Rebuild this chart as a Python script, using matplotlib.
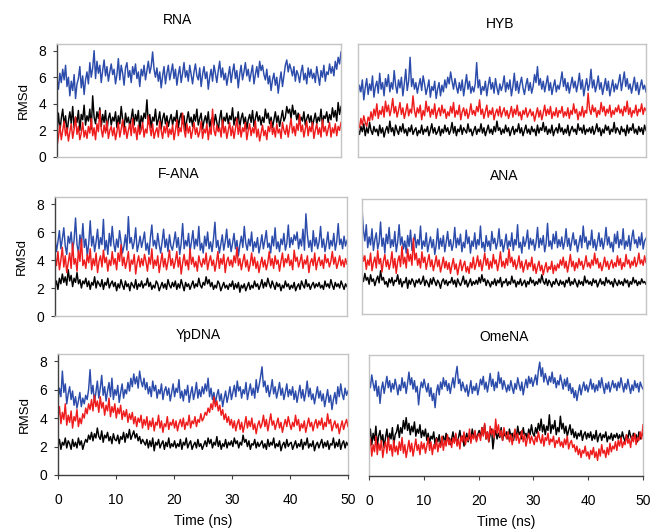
import numpy as np
import matplotlib
matplotlib.use("Agg")
import matplotlib.pyplot as plt

plt.rcParams['font.family'] = ['Liberation Sans', 'DejaVu Sans']

# RMSd traces (Angstrom) over the 50 ns runs, one list per duplex and strand type
rna_blue = [5.9, 5.1, 6.3, 5.6, 6.6, 5.8, 6.9, 5.3, 6.0, 4.6, 5.7, 5.0, 6.2, 4.4, 5.5, 5.9, 6.8, 5.2, 6.1, 4.7,
            5.8, 6.4, 5.5, 7.1, 6.0, 6.7, 8.0, 5.9, 7.2, 6.3, 6.9, 5.6, 6.5, 7.3, 6.1, 6.8, 5.7, 6.4, 7.0, 6.2,
            6.6, 5.5, 6.2, 7.4, 5.8, 6.9, 6.3, 5.4, 6.7, 7.1, 6.0, 6.5, 5.6, 6.8, 6.2, 7.0, 5.9, 6.4, 5.3, 6.6,
            6.1, 6.9, 5.8, 6.5, 7.2, 6.3, 6.8, 7.9, 6.6, 6.0, 6.7, 5.7, 6.4, 5.2, 6.1, 6.8, 5.5, 6.3, 6.9, 5.8,
            6.4, 7.0, 5.9, 6.6, 5.4, 6.2, 6.8, 5.6, 6.3, 7.1, 6.0, 6.5, 5.7, 6.9, 6.2, 5.5, 6.4, 7.0, 6.1, 5.8,
            6.7, 5.3, 6.2, 6.8, 5.9, 6.4, 5.1, 6.0, 6.6, 5.7, 6.9, 6.3, 5.6, 6.5, 7.2, 6.0, 6.7, 5.8, 6.3, 5.4,
            6.1, 6.8, 5.6, 6.4, 7.0, 5.9, 6.5, 5.2, 6.2, 6.9, 5.8, 6.4, 7.1, 6.1, 6.6, 5.7, 6.3, 6.9, 5.5, 6.2,
            6.8, 6.0, 7.2, 6.5, 6.9, 6.2, 5.8, 6.6, 5.5, 6.1, 5.0, 5.8, 6.3, 5.4, 6.0, 4.8, 5.7, 6.4, 5.3, 6.1,
            6.9, 7.3, 6.4, 7.0, 6.6, 6.1, 6.8, 5.7, 6.5, 6.2, 5.6, 6.4, 6.9, 5.8, 6.3, 5.5, 6.7, 6.0, 6.6, 5.9,
            6.3, 5.6, 6.8, 6.1, 5.4, 6.5, 6.0, 6.9, 5.7, 6.4, 6.2, 7.0, 6.3, 6.8, 6.1, 7.2, 6.6, 7.5, 7.0, 7.9]
rna_black = [2.2, 3.3, 1.9, 2.9, 3.6, 2.4, 3.1, 1.8, 2.7, 3.4, 2.5, 3.8, 2.2, 3.0, 2.6, 3.5, 2.0, 3.2, 2.8, 3.9,
             2.4, 3.1, 2.7, 3.6, 2.1, 4.6, 3.0, 2.5, 3.4, 2.9, 3.7, 2.3, 3.2, 2.6, 3.5, 2.0, 2.9, 3.3, 2.4, 3.0,
             2.7, 3.4, 2.2, 3.1, 2.5, 3.8, 2.8, 2.1, 3.3, 2.6, 3.0, 2.3, 2.9, 3.6, 2.4, 3.2, 2.7, 3.5, 2.0, 3.1,
             2.6, 3.3, 2.9, 4.3, 2.5, 3.2, 2.2, 3.0, 2.7, 3.6, 2.4, 2.8, 3.4, 2.1, 2.9, 3.3, 2.5, 3.1, 2.3, 2.8,
             3.2, 2.4, 3.0, 2.7, 3.5, 2.2, 2.9, 3.3, 2.5, 3.1, 2.0, 2.8, 3.4, 2.6, 3.0, 2.3, 3.2, 2.7, 3.6, 2.4,
             2.9, 3.3, 2.1, 2.7, 3.1, 2.5, 3.4, 2.2, 2.8, 3.0, 2.4, 3.2, 2.6, 2.0, 2.9, 3.5, 2.3, 3.0, 2.7, 3.3,
             2.5, 3.1, 2.8, 3.7, 2.4, 3.0, 2.6, 3.4, 2.2, 2.9, 3.3, 2.5, 3.0, 2.1, 2.8, 3.2, 2.6, 3.5, 2.3, 2.9,
             3.4, 2.7, 3.1, 2.4, 3.0, 2.6, 3.6, 2.9, 3.3, 2.5, 3.0, 2.2, 2.8, 3.4, 2.6, 3.1, 2.3, 2.9, 3.5, 2.7,
             3.0, 3.8, 3.3, 3.6, 2.9, 3.9, 3.2, 3.5, 2.8, 3.3, 2.5, 3.0, 2.7, 3.4, 2.4, 2.9, 3.2, 2.6, 3.1, 2.3,
             2.8, 3.3, 2.5, 3.0, 2.7, 3.6, 2.4, 3.1, 2.9, 3.4, 2.6, 3.2, 2.8, 3.7, 3.0, 3.5, 2.7, 4.1, 3.2, 3.8]
rna_red = [0.8, 1.5, 2.4, 1.3, 2.0, 2.7, 1.6, 2.2, 1.2, 1.9, 2.5, 1.4, 2.1, 3.0, 1.7, 2.3, 1.3, 1.8, 2.6, 1.5,
           2.0, 1.4, 2.3, 1.8, 2.9, 1.6, 2.2, 1.3, 2.5, 1.9, 3.5, 2.1, 1.5, 2.4, 1.8, 2.7, 1.4, 2.0, 2.3, 1.6,
           2.2, 1.3, 1.9, 2.6, 1.5, 2.1, 2.8, 1.7, 2.3, 1.4, 2.0, 2.5, 1.6, 2.9, 1.8, 2.2, 1.3, 2.4, 1.7, 2.0,
           2.6, 1.5, 2.1, 1.8, 3.1, 2.3, 1.6, 2.5, 1.4, 1.9, 2.2, 1.5, 2.7, 2.0, 1.4, 2.3, 1.8, 2.6, 1.5, 2.1,
           1.7, 2.4, 1.3, 2.0, 2.8, 1.6, 2.2, 1.9, 3.3, 2.1, 1.5, 2.5, 1.8, 2.3, 1.4, 2.0, 2.6, 1.7, 2.2, 1.5,
           1.9, 2.7, 1.4, 2.1, 1.8, 2.5, 1.3, 2.2, 1.7, 3.6, 2.0, 1.6, 2.4, 1.9, 2.2, 1.5, 2.8, 1.8, 2.3, 1.4,
           2.0, 2.6, 1.6, 2.3, 1.4, 2.1, 2.9, 1.7, 2.4, 1.5, 2.2, 1.9, 2.6, 1.3, 2.0, 2.5, 1.6, 2.2, 1.8, 2.7,
           1.5, 2.1, 1.2, 1.8, 2.4, 1.6, 2.0, 1.3, 2.3, 1.9, 2.7, 1.7, 2.2, 1.5, 2.5, 1.8, 2.1, 1.4, 2.6, 2.0,
           1.7, 2.4, 1.5, 2.2, 2.9, 1.8, 2.3, 1.6, 2.5, 2.0, 3.2, 1.9, 2.4, 1.5, 2.1, 2.7, 1.6, 2.3, 1.9, 2.6,
           1.4, 2.0, 2.5, 1.7, 2.2, 1.5, 2.8, 1.9, 2.3, 1.6, 2.1, 2.6, 1.5, 2.2, 1.8, 2.5, 1.6, 2.3, 2.0, 2.6]

hyb_blue = [4.6, 5.4, 4.9, 5.8, 4.3, 5.2, 5.9, 4.7, 5.5, 5.0, 6.1, 4.5, 5.3, 5.7, 4.8, 6.3, 5.1, 5.6, 4.6, 5.9,
            5.3, 6.2, 4.9, 5.6, 5.1, 6.5, 5.4, 4.8, 5.8, 5.2, 6.0, 4.6, 5.5, 6.6, 5.0, 5.7, 7.5, 5.3, 5.9, 5.1,
            5.6, 4.8, 5.4, 5.9, 5.0, 6.1, 5.5, 4.7, 5.2, 5.8, 4.5, 5.3, 5.0, 5.7, 4.4, 5.1, 5.6, 4.6, 5.4, 4.9,
            5.8, 5.2, 6.0, 5.5, 6.4, 5.7, 5.1, 5.9, 5.3, 4.8, 5.6, 5.0, 5.8, 4.6, 5.4, 6.2, 5.1, 5.7, 4.8, 5.3,
            4.9, 5.5, 7.1, 5.2, 5.8, 4.7, 5.3, 5.0, 5.7, 4.6, 5.4, 6.0, 5.1, 5.6, 4.8, 5.9, 5.2, 4.7, 5.5, 5.0,
            5.4, 6.1, 4.9, 5.6, 5.1, 5.8, 4.6, 5.3, 6.3, 5.0, 5.7, 4.8, 5.5, 6.0, 5.2, 4.7, 5.4, 5.9, 5.0, 5.6,
            4.8, 5.3, 6.2, 5.6, 6.8, 5.4, 5.9, 5.1, 5.7, 4.9, 5.5, 6.1, 5.0, 5.6, 4.7, 5.3, 5.8, 4.9, 5.4, 5.1,
            5.7, 6.4, 5.3, 5.9, 5.0, 5.6, 4.8, 5.4, 6.0, 5.2, 5.7, 4.9, 5.5, 6.3, 5.1, 5.8, 4.6, 5.3, 5.9, 5.0,
            5.5, 6.6, 5.2, 5.8, 4.9, 5.4, 6.1, 5.1, 5.6, 4.7, 5.3, 5.9, 5.0, 5.7, 4.6, 5.2, 5.8, 4.9, 5.5, 5.1,
            5.6, 6.2, 5.0, 5.7, 6.4, 5.3, 5.9, 5.1, 5.5, 4.8, 5.4, 6.0, 5.0, 5.6, 4.7, 5.3, 5.8, 5.1, 5.4, 4.9]
hyb_black = [2.1, 1.7, 2.3, 1.9, 2.5, 1.6, 2.2, 1.8, 2.6, 2.0, 1.7, 2.3, 1.9, 2.1, 1.6, 2.4, 1.8, 2.2, 1.5, 2.0,
             2.3, 1.8, 2.7, 1.9, 2.2, 1.6, 2.4, 2.0, 1.7, 2.3, 1.9, 2.5, 1.8, 2.1, 1.6, 2.2, 1.9, 2.4, 1.7, 2.0,
             2.2, 1.6, 2.0, 1.8, 2.4, 1.7, 2.1, 1.9, 2.3, 1.6, 2.0, 2.5, 1.8, 2.2, 1.7, 1.9, 2.3, 1.6, 2.1, 1.8,
             2.4, 1.9, 2.2, 1.7, 2.0, 2.6, 1.8, 2.3, 1.6, 2.1, 1.9, 2.4, 1.7, 2.2, 2.0, 1.8, 2.5, 1.9, 2.1, 1.6,
             2.0, 2.3, 1.7, 2.1, 1.9, 2.5, 1.8, 2.2, 1.6, 2.0, 2.4, 1.8, 2.1, 1.7, 2.3, 1.9, 2.7, 2.0, 2.2, 1.7,
             2.1, 1.8, 2.4, 1.9, 2.2, 1.6, 2.0, 2.3, 1.7, 2.1, 1.9, 2.5, 1.8, 2.2, 1.6, 2.0, 2.4, 1.8, 2.1, 1.7,
             2.3, 1.9, 2.1, 1.6, 2.4, 1.8, 2.2, 2.0, 2.6, 1.9, 2.3, 1.7, 2.1, 1.8, 2.4, 1.6, 2.0, 2.2, 1.8, 2.5,
             1.9, 2.2, 1.7, 2.1, 1.8, 2.4, 1.6, 2.0, 2.3, 1.9, 2.1, 1.7, 2.5, 2.0, 2.2, 1.8, 2.4, 1.7, 2.1, 1.9,
             2.2, 1.8, 2.3, 1.7, 2.0, 2.5, 1.9, 2.2, 1.6, 2.1, 1.8, 2.4, 2.0, 2.3, 1.7, 2.1, 1.9, 2.6, 1.8, 2.2,
             2.0, 1.7, 2.3, 1.9, 2.1, 1.6, 2.4, 1.8, 2.2, 2.0, 2.5, 1.8, 2.1, 1.7, 2.3, 1.9, 2.2, 1.7, 2.4, 2.0]
hyb_red = [2.5, 2.2, 2.9, 2.4, 3.1, 2.6, 2.3, 3.0, 2.7, 3.4, 2.8, 3.6, 3.1, 4.0, 2.9, 3.5, 3.2, 3.8, 3.0, 4.2,
           3.4, 3.9, 3.1, 3.6, 4.4, 3.3, 3.8, 3.0, 3.5, 4.1, 3.2, 3.7, 2.9, 3.4, 4.0, 3.1, 3.6, 3.3, 4.6, 3.5,
           3.0, 3.7, 3.3, 3.9, 2.8, 3.5, 3.1, 4.2, 3.4, 3.8, 3.0, 3.6, 3.2, 4.0, 2.9, 3.4, 3.7, 3.1, 3.9, 3.3,
           3.6, 2.9, 3.4, 3.1, 3.8, 3.3, 4.1, 3.0, 3.5, 3.2, 3.9, 2.8, 3.4, 3.7, 3.1, 3.6, 2.9, 3.3, 4.0, 3.2,
           3.5, 3.1, 3.8, 3.4, 4.3, 3.2, 3.6, 2.9, 3.4, 3.9, 3.0, 3.5, 3.2, 3.7, 2.8, 3.3, 3.6, 3.1, 3.8, 3.0,
           3.4, 3.7, 3.1, 3.5, 2.9, 3.3, 3.8, 3.0, 3.6, 3.2, 3.9, 3.1, 3.4, 2.8, 3.5, 3.2, 3.7, 3.0, 3.3, 3.6,
           3.1, 3.4, 2.7, 3.2, 3.7, 3.0, 3.5, 2.8, 3.3, 3.9, 3.1, 3.6, 3.2, 3.8, 2.9, 3.4, 3.1, 3.7, 3.0, 3.5,
           3.3, 3.8, 3.0, 3.4, 3.1, 3.7, 2.9, 3.5, 3.2, 4.0, 3.3, 3.6, 2.8, 3.4, 3.1, 3.8, 3.0, 3.5, 3.3, 4.8,
           3.6, 3.2, 3.9, 3.4, 3.7, 3.0, 3.5, 3.2, 4.1, 3.4, 3.8, 3.1, 3.6, 3.3, 3.9, 3.0, 3.5, 3.2, 3.7, 3.4,
           3.9, 3.3, 3.6, 3.1, 3.8, 3.4, 4.2, 3.2, 3.7, 3.0, 3.5, 3.3, 3.9, 3.1, 3.6, 3.4, 4.0, 3.2, 3.7, 3.5]

fana_blue = [5.6, 4.6, 5.3, 6.1, 4.8, 5.5, 6.3, 5.0, 4.4, 5.7, 5.2, 6.0, 4.7, 5.4, 7.0, 5.1, 4.5, 5.8, 5.0, 6.6,
             4.9, 5.5, 4.3, 5.2, 6.8, 5.0, 5.7, 4.6, 5.3, 6.2, 4.8, 5.6, 5.1, 6.9, 4.7, 5.4, 4.4, 5.9, 5.0, 6.4,
             5.2, 4.6, 5.5, 4.9, 6.1, 5.3, 4.5, 5.0, 5.8, 4.7, 7.1, 5.2, 5.6, 4.8, 5.3, 6.3, 4.6, 5.1, 5.7, 4.9,
             5.4, 6.0, 4.7, 5.2, 4.4, 5.6, 6.5, 5.0, 5.4, 4.8, 5.9, 5.1, 4.5, 5.3, 6.2, 4.9, 5.5, 4.6, 5.8, 5.0,
             4.7, 5.3, 6.0, 4.9, 5.6, 4.4, 5.2, 6.6, 4.8, 5.4, 5.0, 5.9, 4.6, 5.3, 6.1, 4.8, 5.5, 5.0, 6.4, 4.7,
             5.2, 4.5, 5.7, 5.0, 6.0, 4.8, 5.3, 4.6, 5.5, 6.7, 4.9, 5.4, 4.5, 5.1, 5.8, 4.7, 5.3, 6.2, 4.9, 5.5,
             4.6, 5.2, 5.9, 4.8, 5.4, 4.3, 5.1, 5.7, 4.9, 6.4, 5.2, 4.7, 5.5, 5.0, 6.0, 4.6, 5.3, 4.9, 5.6, 4.5,
             5.1, 5.8, 4.8, 5.4, 6.1, 4.9, 5.2, 4.5, 5.7, 5.0, 6.3, 4.8, 5.3, 4.6, 5.5, 5.1, 5.9, 4.7, 5.2, 6.5,
             4.9, 5.6, 5.1, 5.8, 5.4, 6.0, 4.8, 5.5, 5.0, 6.2, 4.7, 7.3, 5.8, 4.9, 5.4, 4.6, 6.1, 5.0, 5.6, 4.8,
             5.3, 6.4, 4.9, 5.5, 4.6, 5.2, 6.0, 4.8, 5.4, 5.0, 5.9, 4.7, 5.3, 6.6, 5.1, 5.5, 4.8, 5.7, 5.0, 5.4]
fana_black = [2.1, 2.5, 1.9, 2.7, 2.3, 3.0, 2.4, 2.8, 2.2, 3.3, 2.5, 2.9, 2.1, 2.7, 2.4, 3.1, 2.3, 2.6, 2.0, 2.5,
              2.3, 2.7, 2.1, 2.5, 1.9, 2.4, 2.2, 2.8, 2.0, 2.5, 2.3, 2.1, 2.6, 1.9, 2.4, 2.2, 2.7, 2.0, 2.3, 2.5,
              2.1, 2.4, 1.8, 2.3, 2.0, 2.6, 2.2, 1.9, 2.5, 2.1, 2.3, 1.8, 2.4, 2.2, 2.0, 2.6, 1.9, 2.3, 2.1, 2.5,
              2.0, 2.3, 2.2, 2.7, 2.1, 2.4, 1.9, 2.2, 2.0, 2.5, 2.3, 1.8, 2.1, 2.4, 2.0, 2.3, 1.9, 2.6, 2.2, 2.0,
              2.4, 2.1, 2.5, 1.9, 2.3, 2.0, 2.6, 2.2, 1.8, 2.4, 2.1, 2.3, 1.9, 2.2, 2.5, 2.0, 2.3, 2.1, 2.7, 2.2,
              2.0, 2.4, 2.2, 2.8, 2.3, 2.6, 2.1, 2.4, 1.9, 2.2, 2.0, 2.5, 2.3, 1.8, 2.1, 2.4, 2.0, 2.2, 1.9, 2.3,
              2.1, 2.5, 1.9, 2.3, 2.0, 2.4, 1.7, 2.2, 2.0, 2.3, 1.8, 2.1, 2.4, 1.9, 2.2, 2.0, 2.5, 2.1, 2.3, 1.9,
              2.2, 2.6, 2.0, 2.4, 2.1, 2.7, 2.3, 2.0, 2.5, 2.2, 1.9, 2.4, 2.1, 2.3, 1.8, 2.2, 2.0, 2.5, 2.1, 2.3,
              1.9, 2.2, 2.0, 2.4, 1.8, 2.1, 2.3, 1.9, 2.5, 2.2, 2.0, 2.6, 2.1, 2.3, 1.9, 2.2, 2.4, 2.0, 2.3, 2.1,
              2.4, 2.0, 2.2, 1.9, 2.5, 2.1, 2.3, 2.0, 2.6, 2.2, 1.9, 2.4, 2.1, 2.3, 2.0, 2.5, 2.2, 1.9, 2.3, 2.1]
fana_red = [4.2, 3.6, 4.6, 3.3, 4.0, 4.9, 3.5, 4.3, 3.1, 3.8, 4.5, 3.4, 5.2, 3.7, 4.1, 3.2, 4.7, 3.9, 5.5, 3.6,
            4.0, 3.4, 4.4, 3.8, 4.8, 3.3, 4.1, 3.6, 4.5, 3.1, 3.9, 4.3, 3.5, 4.7, 3.8, 4.2, 3.2, 4.0, 3.6, 4.6,
            3.7, 4.1, 3.3, 4.5, 3.9, 5.1, 3.6, 4.2, 3.4, 3.9, 4.6, 3.2, 4.0, 3.7, 4.4, 3.0, 3.8, 4.3, 3.5, 4.1,
            3.6, 4.4, 3.9, 3.2, 4.2, 3.7, 4.8, 3.4, 4.0, 3.6, 4.3, 3.1, 3.8, 4.5, 3.5, 4.1, 3.3, 3.9, 4.7, 3.6,
            4.1, 3.4, 3.9, 4.6, 3.5, 4.2, 3.0, 3.8, 4.4, 3.6, 4.0, 3.3, 4.8, 3.7, 4.2, 3.5, 3.9, 3.2, 4.3, 3.8,
            3.5, 4.1, 3.7, 4.5, 3.3, 3.9, 4.3, 3.6, 4.0, 3.2, 3.8, 4.6, 3.4, 4.1, 3.7, 4.4, 3.1, 3.9, 4.2, 3.6,
            4.0, 3.5, 4.3, 3.8, 4.9, 3.6, 4.1, 3.3, 3.9, 4.4, 3.5, 4.0, 3.2, 3.7, 4.5, 3.6, 4.2, 3.4, 3.9, 3.1,
            3.7, 4.2, 3.5, 4.0, 3.3, 3.8, 4.6, 3.6, 4.1, 3.4, 4.3, 3.7, 4.0, 3.2, 3.9, 4.5, 3.5, 4.1, 3.8, 4.4,
            3.6, 4.0, 3.3, 4.7, 3.9, 4.2, 3.5, 3.9, 4.4, 3.4, 4.0, 3.7, 4.3, 3.1, 3.8, 4.1, 3.6, 4.5, 3.3, 3.9,
            4.2, 3.6, 4.0, 3.4, 4.4, 3.8, 4.1, 3.5, 3.9, 4.6, 3.7, 4.2, 3.4, 3.8, 4.3, 3.6, 4.0, 3.5, 4.1, 3.7]

ana_blue = [7.8, 6.2, 5.4, 6.6, 4.9, 5.7, 5.1, 6.3, 4.7, 5.5, 6.0, 4.8, 5.3, 6.8, 5.0, 5.6, 4.5, 5.9, 5.2, 6.4,
            4.9, 5.5, 5.0, 6.1, 4.6, 5.3, 6.6, 5.1, 5.7, 4.8, 5.4, 4.5, 5.8, 5.0, 6.2, 4.7, 5.3, 5.9, 4.9, 5.5,
            5.1, 6.5, 4.8, 5.4, 5.0, 6.0, 4.6, 5.2, 5.7, 4.9, 5.5, 4.4, 5.1, 6.3, 4.8, 5.6, 5.0, 5.8, 4.6, 5.3,
            6.1, 5.0, 5.5, 4.7, 5.2, 6.4, 4.9, 5.6, 5.1, 5.9, 4.6, 5.3, 4.9, 6.2, 5.2, 5.7, 4.5, 5.4, 5.0, 6.0,
            4.8, 5.5, 5.1, 6.5, 4.9, 5.3, 4.6, 5.8, 5.0, 5.4, 4.7, 6.1, 5.2, 5.6, 4.8, 5.3, 6.3, 5.0, 5.5, 4.6,
            5.2, 5.9, 4.8, 5.4, 5.0, 6.0, 4.7, 5.5, 5.1, 6.6, 4.9, 5.3, 4.5, 5.7, 5.0, 5.4, 6.2, 4.8, 5.6, 5.1,
            5.5, 4.7, 5.3, 6.4, 4.9, 5.6, 5.1, 5.8, 4.6, 5.2, 6.7, 5.0, 5.4, 4.8, 5.9, 5.2, 6.1, 4.9, 5.5, 5.0,
            5.7, 4.8, 5.3, 6.3, 5.0, 5.6, 4.7, 5.4, 6.0, 5.1, 5.5, 4.6, 5.2, 5.8, 4.9, 6.5, 5.3, 5.7, 4.8, 5.4,
            5.1, 6.2, 4.9, 5.5, 4.7, 5.3, 6.0, 5.0, 5.6, 4.8, 5.4, 6.4, 5.1, 5.7, 4.9, 5.3, 4.6, 5.9, 5.2, 6.1,
            4.9, 5.5, 5.1, 6.3, 4.8, 5.4, 5.0, 5.8, 4.7, 5.6, 6.2, 5.2, 5.5, 4.9, 5.7, 5.1, 6.0, 4.8, 5.4, 5.6]
ana_black = [2.8, 2.4, 3.0, 2.5, 2.7, 2.2, 2.9, 2.4, 2.6, 2.1, 2.5, 2.8, 2.3, 3.2, 2.5, 2.7, 2.2, 2.4, 2.0, 2.6,
             2.3, 2.7, 2.1, 2.5, 2.4, 2.9, 2.2, 2.6, 2.0, 2.4, 2.3, 2.7, 1.9, 2.5, 2.2, 2.6, 2.4, 2.0, 2.5, 2.3,
             2.6, 2.2, 2.4, 2.8, 2.1, 2.5, 2.3, 2.0, 2.6, 2.2, 2.7, 2.4, 2.1, 2.5, 2.3, 1.9, 2.4, 2.6, 2.2, 2.5,
             2.1, 2.4, 2.3, 2.7, 2.2, 2.5, 2.0, 2.6, 2.3, 2.1, 2.4, 2.8, 2.2, 2.5, 2.0, 2.3, 2.6, 2.1, 2.4, 2.2,
             2.5, 2.2, 2.7, 2.3, 2.9, 2.4, 2.6, 2.1, 2.5, 2.3, 2.0, 2.4, 2.2, 2.6, 2.1, 2.5, 2.3, 2.7, 2.0, 2.4,
             2.3, 2.6, 2.1, 2.4, 2.2, 2.8, 2.3, 2.5, 2.0, 2.4, 2.2, 2.6, 2.1, 2.3, 2.5, 2.0, 2.4, 2.2, 2.7, 2.3,
             2.5, 2.1, 2.4, 2.2, 2.6, 2.3, 2.9, 2.4, 2.2, 2.6, 2.1, 2.5, 2.3, 2.0, 2.4, 2.2, 2.6, 2.3, 2.1, 2.5,
             2.2, 2.4, 2.0, 2.5, 2.3, 2.7, 2.1, 2.4, 2.2, 2.6, 2.3, 2.0, 2.5, 2.2, 2.4, 2.1, 2.8, 2.3, 2.5, 2.2,
             2.4, 2.1, 2.6, 2.3, 2.5, 2.0, 2.3, 2.6, 2.2, 2.4, 2.1, 2.7, 2.3, 2.5, 2.2, 2.4, 2.0, 2.6, 2.3, 2.1,
             2.5, 2.2, 2.4, 2.1, 2.6, 2.3, 2.5, 2.0, 2.4, 2.2, 2.7, 2.3, 2.5, 2.1, 2.4, 2.2, 2.6, 2.3, 2.4, 2.2]
ana_red = [4.6, 3.9, 4.3, 3.3, 4.0, 3.6, 4.5, 3.2, 3.8, 4.2, 3.4, 4.7, 3.7, 4.1, 3.1, 3.9, 4.4, 3.5, 4.0, 3.3,
           3.8, 4.6, 3.4, 4.1, 3.0, 3.9, 4.3, 3.5, 5.0, 3.7, 4.2, 3.4, 4.8, 3.9, 4.4, 3.6, 5.6, 4.0, 4.5, 3.6,
           4.1, 3.4, 4.6, 3.8, 4.2, 3.3, 3.9, 4.4, 3.5, 4.0, 3.2, 3.7, 4.3, 3.5, 4.0, 3.1, 3.6, 4.2, 3.4, 3.9,
           3.3, 3.8, 3.0, 3.6, 4.1, 3.3, 3.7, 2.9, 3.5, 4.0, 3.2, 3.6, 3.9, 3.1, 3.5, 3.0, 3.8, 3.4, 4.2, 3.3,
           3.7, 4.3, 3.5, 4.0, 3.2, 3.8, 4.5, 3.6, 4.1, 3.3, 3.9, 3.4, 4.4, 3.7, 4.0, 3.2, 3.8, 4.6, 3.5, 3.9,
           3.4, 4.1, 3.6, 4.8, 3.8, 4.2, 3.5, 4.0, 3.3, 3.7, 4.3, 3.4, 3.9, 3.1, 3.6, 4.0, 3.3, 3.8, 3.5, 4.2,
           3.2, 3.7, 3.0, 3.5, 3.9, 3.2, 3.6, 2.9, 3.4, 3.8, 3.1, 3.5, 3.3, 3.9, 3.0, 3.6, 3.2, 3.7, 3.4, 4.0,
           3.6, 4.2, 3.4, 3.9, 3.1, 3.7, 4.4, 3.5, 3.9, 3.2, 3.8, 3.4, 4.1, 3.6, 3.9, 3.3, 3.7, 4.3, 3.5, 3.8,
           3.4, 4.0, 3.6, 4.5, 3.7, 4.1, 3.4, 3.8, 3.2, 3.6, 4.2, 3.5, 3.9, 3.3, 3.7, 4.0, 3.4, 3.8, 3.5, 4.3,
           3.6, 4.1, 3.3, 3.8, 3.5, 4.4, 3.7, 4.0, 3.4, 3.9, 3.6, 4.2, 3.5, 3.8, 4.5, 3.7, 4.0, 3.6, 4.3, 3.8]

ypdna_blue = [5.2, 6.1, 5.5, 7.3, 5.8, 6.4, 5.0, 5.7, 6.2, 5.3, 5.9, 4.9, 5.5, 4.7, 5.2, 5.8, 4.8, 5.4, 5.0, 5.6,
              5.3, 6.0, 7.4, 5.7, 6.3, 5.1, 5.8, 6.6, 5.4, 6.1, 7.0, 5.6, 6.2, 5.2, 5.9, 6.5, 5.5, 6.8, 5.3, 6.0,
              5.6, 6.3, 5.1, 5.8, 6.4, 5.4, 6.0, 5.7, 6.5, 5.9, 6.8, 6.2, 7.1, 6.4, 6.9, 6.1, 7.3, 6.6, 6.2, 6.8,
              6.0, 6.5, 5.7, 6.2, 5.5, 6.6, 5.9, 6.3, 5.4, 6.0, 5.7, 6.4, 5.3, 5.9, 6.2, 5.6, 6.1, 5.2, 5.8, 6.4,
              5.5, 6.1, 5.8, 6.7, 5.4, 5.9, 5.2, 6.0, 5.6, 6.3, 5.1, 5.7, 6.2, 5.3, 5.8, 6.5, 5.4, 6.0, 5.5, 6.2,
              5.7, 6.4, 5.9, 6.8, 5.5, 6.1, 5.3, 5.8, 5.0, 5.6, 6.0, 5.2, 5.7, 4.8, 5.4, 5.9, 5.1, 5.6, 6.2, 5.3,
              5.8, 6.3, 5.5, 6.6, 5.9, 6.2, 5.4, 6.0, 5.7, 6.5, 5.3, 5.9, 6.4, 5.6, 6.1, 5.4, 6.7, 5.8, 6.3, 6.9,
              7.6, 6.2, 6.6, 5.8, 6.3, 5.5, 6.0, 6.7, 5.7, 6.2, 5.4, 5.9, 6.5, 5.6, 6.1, 5.3, 5.8, 6.4, 5.5, 6.0,
              5.6, 6.2, 5.3, 5.9, 5.1, 5.7, 6.3, 5.4, 6.0, 5.2, 5.8, 6.6, 5.5, 6.1, 5.3, 5.7, 5.0, 5.6, 6.2, 5.4,
              5.9, 5.2, 5.7, 4.8, 5.4, 6.0, 5.1, 5.6, 4.6, 5.3, 5.8, 5.0, 6.2, 5.5, 6.4, 5.7, 5.3, 6.1, 5.6, 5.9]
ypdna_black = [2.0, 2.5, 1.8, 2.3, 2.1, 2.6, 1.9, 2.4, 2.2, 1.8, 2.5, 2.0, 2.3, 1.9, 2.6, 2.1, 2.4, 1.8, 2.2, 2.5,
               2.3, 2.8, 2.5, 3.0, 2.4, 2.9, 2.6, 3.3, 2.7, 2.5, 3.1, 2.3, 2.8, 2.6, 3.0, 2.4, 2.7, 2.2, 2.9, 2.5,
               2.4, 2.8, 2.2, 2.7, 2.5, 3.0, 2.3, 2.9, 2.6, 3.2, 2.5, 2.8, 3.1, 2.6, 2.9, 2.4, 2.7, 2.2, 2.5, 2.3,
               2.1, 2.5, 1.9, 2.4, 2.0, 2.6, 1.7, 2.3, 2.1, 2.5, 1.9, 2.2, 2.4, 1.8, 2.3, 2.0, 2.6, 1.9, 2.2, 2.0,
               2.4, 1.9, 2.2, 2.0, 2.5, 1.8, 2.3, 2.1, 2.6, 1.9, 2.2, 2.4, 1.8, 2.1, 2.3, 1.9, 2.5, 2.0, 2.2, 1.8,
               2.1, 2.4, 2.0, 2.6, 2.2, 2.5, 1.9, 2.3, 2.1, 2.7, 2.0, 2.4, 1.8, 2.2, 2.0, 2.5, 1.9, 2.3, 2.1, 2.4,
               2.0, 2.6, 2.2, 2.4, 1.9, 2.3, 2.1, 2.8, 2.3, 2.5, 2.0, 2.4, 1.8, 2.2, 2.1, 2.5, 1.9, 2.3, 2.0, 2.2,
               2.4, 1.9, 2.2, 1.8, 2.5, 2.0, 2.3, 2.1, 2.6, 1.9, 2.2, 2.0, 2.4, 1.7, 2.1, 2.3, 1.9, 2.5, 2.0, 2.2,
               2.3, 1.8, 2.1, 2.4, 1.9, 2.2, 2.0, 2.5, 1.8, 2.3, 2.1, 2.6, 1.9, 2.2, 2.0, 2.4, 1.7, 2.1, 2.3, 1.9,
               2.2, 2.5, 1.9, 2.3, 2.0, 2.4, 1.8, 2.2, 2.1, 2.6, 1.9, 2.3, 2.0, 2.5, 1.8, 2.2, 2.4, 1.9, 2.3, 2.1]
ypdna_red = [4.0, 4.8, 3.6, 4.4, 3.9, 5.0, 3.5, 4.2, 3.7, 4.5, 3.3, 4.1, 3.8, 4.6, 3.4, 4.0, 3.6, 4.3, 4.0, 4.7,
             4.3, 5.0, 4.6, 5.3, 4.5, 5.6, 4.8, 5.2, 4.4, 5.5, 4.7, 5.1, 4.2, 4.9, 4.5, 5.4, 4.1, 4.8, 4.4, 5.0,
             4.0, 4.7, 4.3, 4.9, 3.9, 4.5, 4.1, 4.6, 3.7, 4.3, 3.9, 4.4, 3.6, 4.1, 3.4, 4.0, 3.7, 4.2, 3.3, 3.9,
             3.5, 4.1, 3.2, 3.8, 3.4, 4.0, 3.1, 3.7, 3.5, 4.2, 3.3, 3.8, 3.0, 3.6, 3.4, 4.1, 3.2, 3.7, 3.5, 3.9,
             3.3, 3.8, 3.1, 3.6, 3.9, 3.4, 4.0, 3.2, 3.7, 3.5, 4.2, 3.3, 3.8, 3.6, 4.1, 3.4, 3.9, 3.7, 4.3, 3.8,
             4.0, 4.4, 4.2, 4.7, 4.4, 5.0, 4.6, 5.5, 4.8, 5.2, 4.5, 4.9, 4.2, 4.6, 3.9, 4.3, 3.7, 4.1, 3.5, 3.9,
             3.3, 3.8, 3.1, 3.6, 3.9, 3.2, 3.7, 3.0, 3.5, 4.1, 3.3, 3.8, 3.4, 4.0, 3.2, 3.6, 2.9, 3.5, 3.8, 3.3,
             3.6, 4.2, 3.4, 3.9, 3.1, 3.7, 4.3, 3.5, 3.8, 3.2, 3.6, 4.0, 3.3, 3.7, 3.0, 3.5, 3.9, 3.4, 4.1, 3.6,
             3.2, 3.7, 3.4, 4.2, 3.5, 3.9, 3.1, 3.6, 3.3, 3.8, 3.0, 3.5, 4.0, 3.4, 3.7, 3.1, 3.6, 3.9, 3.3, 3.8,
             3.5, 4.0, 3.2, 3.7, 3.4, 4.3, 3.6, 3.9, 3.1, 3.5, 3.8, 3.3, 3.6, 2.9, 3.4, 3.8, 3.2, 3.6, 3.9, 3.4]

omena_blue = [6.8, 6.2, 7.1, 6.5, 6.0, 6.7, 5.6, 6.3, 5.1, 6.1, 6.6, 5.8, 6.4, 7.0, 6.2, 6.7, 5.9, 6.5, 6.1, 6.8,
              6.3, 5.7, 6.4, 6.0, 6.9, 6.2, 6.6, 5.8, 6.5, 7.3, 6.4, 6.9, 6.1, 6.7, 5.9, 6.3, 5.0, 6.0, 6.6, 6.2,
              6.8, 6.3, 5.9, 6.5, 5.6, 6.2, 5.3, 5.8, 4.8, 5.9, 6.4, 5.7, 6.6, 6.1, 6.9, 6.3, 6.7, 6.0, 6.5, 5.8,
              6.4, 6.9, 6.2, 7.1, 7.7, 6.5, 6.8, 6.0, 6.6, 6.2, 5.9, 6.4, 5.6, 6.1, 6.7, 5.8, 6.3, 6.0, 6.5, 5.7,
              6.2, 6.8, 6.4, 7.0, 6.1, 6.6, 5.9, 6.5, 7.2, 6.3, 6.8, 6.0, 6.6, 6.2, 7.3, 6.5, 6.9, 6.1, 6.7, 6.3,
              5.9, 6.4, 6.0, 6.7, 6.2, 5.8, 6.5, 6.1, 6.9, 6.4, 6.0, 6.6, 5.7, 6.3, 6.8, 6.2, 7.0, 6.5, 6.9, 6.3,
              6.7, 7.1, 6.4, 7.4, 8.0, 7.0, 7.6, 6.6, 7.2, 6.8, 6.4, 7.0, 6.6, 7.3, 6.5, 6.9, 6.2, 6.7, 6.4, 7.1,
              6.6, 6.1, 6.8, 6.3, 6.9, 6.0, 6.5, 5.8, 6.2, 5.5, 6.0, 5.3, 5.9, 6.4, 5.7, 6.2, 6.6, 6.0, 6.4, 5.9,
              6.3, 6.8, 6.1, 6.5, 5.9, 6.4, 6.0, 6.7, 6.2, 6.9, 6.3, 5.8, 6.5, 6.1, 6.6, 5.9, 6.3, 6.7, 6.2, 6.5,
              6.0, 6.6, 6.2, 6.9, 6.4, 5.9, 6.5, 6.1, 6.8, 6.3, 5.8, 6.4, 6.0, 6.7, 6.2, 6.5, 5.9, 6.6, 6.3, 6.1]
omena_black = [2.6, 3.3, 2.2, 3.0, 2.5, 3.5, 2.1, 2.8, 3.2, 2.4, 2.9, 2.0, 2.7, 3.3, 2.3, 3.0, 2.6, 3.4, 2.2, 2.9,
               3.1, 3.6, 2.7, 3.4, 3.0, 3.9, 3.3, 4.1, 3.2, 3.7, 2.9, 3.5, 3.1, 3.8, 2.8, 3.3, 3.0, 3.6, 2.7, 3.2,
               2.8, 3.3, 2.5, 3.0, 2.3, 2.8, 2.6, 3.1, 2.2, 2.7, 2.4, 2.9, 2.1, 2.6, 2.8, 2.3, 3.0, 2.5, 2.7, 2.2,
               2.6, 3.1, 2.4, 2.9, 2.2, 2.7, 3.2, 2.5, 2.8, 2.1, 2.6, 3.0, 2.4, 2.8, 2.6, 3.3, 2.7, 3.1, 2.5, 2.9,
               3.2, 2.7, 3.4, 2.9, 3.6, 2.6, 3.1, 2.4, 2.9, 3.3, 1.9, 2.8, 3.2, 2.6, 3.0, 2.7, 3.4, 2.5, 3.0, 2.8,
               3.1, 2.6, 3.3, 2.8, 3.0, 2.5, 3.2, 2.7, 3.5, 2.9, 3.1, 2.6, 3.4, 2.8, 3.0, 2.6, 3.3, 2.9, 3.6, 3.0,
               2.8, 3.4, 3.0, 3.7, 3.2, 4.0, 3.1, 3.6, 2.9, 3.5, 3.2, 4.3, 3.0, 3.6, 3.3, 3.9, 2.9, 3.4, 3.1, 4.2,
               3.3, 3.7, 3.0, 3.5, 2.8, 3.2, 3.6, 2.9, 3.3, 2.7, 3.1, 2.6, 3.0, 2.8, 3.2, 2.5, 2.9, 3.1, 2.6, 3.0,
               2.7, 3.1, 2.5, 2.9, 2.6, 3.2, 2.4, 2.8, 3.0, 2.5, 2.9, 2.7, 3.1, 2.4, 2.8, 2.6, 3.0, 2.5, 2.9, 2.7,
               3.0, 2.6, 2.9, 2.5, 3.1, 2.7, 2.4, 2.9, 2.6, 3.2, 2.8, 2.5, 3.0, 2.7, 2.9, 2.4, 3.1, 2.6, 2.8, 3.0]
omena_red = [1.9, 2.6, 1.4, 2.2, 1.7, 2.8, 1.5, 2.3, 1.8, 2.5, 1.3, 2.0, 2.4, 1.6, 2.7, 1.8, 2.2, 1.4, 2.5, 1.7,
             2.1, 1.5, 2.4, 1.8, 2.7, 1.6, 2.2, 1.3, 1.9, 2.5, 1.7, 2.3, 1.4, 2.0, 2.6, 1.8, 2.2, 1.5, 2.4, 1.9,
             2.3, 1.6, 2.1, 2.7, 1.8, 2.4, 1.5, 2.2, 1.9, 2.6, 1.7, 2.3, 2.0, 2.8, 1.8, 2.5, 2.1, 2.9, 2.2, 2.6,
             2.0, 2.7, 2.3, 3.0, 2.1, 2.6, 1.9, 2.8, 2.4, 3.1, 2.2, 2.7, 2.5, 3.3, 2.3, 2.9, 2.6, 3.2, 2.4, 2.8,
             3.0, 2.5, 3.4, 2.8, 3.7, 2.6, 3.1, 2.4, 3.5, 2.9, 3.3, 2.7, 4.0, 3.0, 3.6, 2.8, 3.2, 2.5, 3.4, 2.9,
             2.6, 3.1, 2.4, 2.9, 2.2, 2.8, 3.3, 2.5, 3.0, 2.3, 2.7, 3.2, 2.4, 2.9, 2.1, 2.6, 3.0, 2.3, 2.8, 2.5,
             2.2, 2.8, 2.4, 3.1, 2.6, 2.3, 2.9, 2.1, 2.7, 2.5, 3.0, 2.2, 2.6, 2.4, 2.8, 2.0, 2.5, 2.3, 2.7, 2.1,
             2.4, 2.0, 2.6, 2.2, 2.8, 1.9, 2.3, 2.5, 2.0, 2.2, 1.7, 2.1, 1.5, 1.9, 1.3, 1.8, 1.6, 2.1, 1.4, 1.7,
             1.2, 1.8, 1.5, 2.0, 1.3, 1.7, 1.1, 1.9, 1.4, 2.2, 1.6, 1.8, 1.3, 2.0, 1.5, 2.3, 1.7, 2.1, 1.9, 2.4,
             1.8, 2.5, 2.1, 2.7, 2.0, 2.4, 2.2, 2.9, 2.3, 2.6, 2.0, 2.8, 2.4, 3.0, 2.2, 2.7, 2.5, 3.1, 2.6, 3.6]

titles = ['RNA', 'HYB', 'F-ANA', 'ANA', 'YpDNA', 'OmeNA']
traces = [(rna_blue, rna_black, rna_red), (hyb_blue, hyb_black, hyb_red),
          (fana_blue, fana_black, fana_red), (ana_blue, ana_black, ana_red),
          (ypdna_blue, ypdna_black, ypdna_red), (omena_blue, omena_black, omena_red)]

blue = '#2c4cab'
red = '#ee1c1c'
frame = '#c4c4c4'
dark = '#404040'

W, H = 650, 529
# panel boxes in pixels: left, right, top, bottom
boxes = [(57, 341, 44, 157), (358, 646, 44, 157),
         (55, 347, 197, 316), (362, 646, 199, 314),
         (58, 348, 354, 475), (369, 643, 355, 476)]
title_pos = [(178, 20), (500, 24), (179, 174), (504, 176), (198, 335), (504, 337)]

fig = plt.figure(figsize=(W / 100, H / 100), dpi=100)

for i, (box, name, (b, k, r)) in enumerate(zip(boxes, titles, traces)):
    l, rt, t, bt = box
    ax = fig.add_axes([l / W, 1 - bt / H, (rt - l) / W, (bt - t) / H])
    for series, col in ((b, blue), (k, 'black'), (r, red)):
        time = np.linspace(0, 50, len(series))
        ax.plot(time, series, color=col, lw=1.05)
    ax.set_xlim(0, 50)
    ax.set_ylim(0, 8.5)
    for sp in ax.spines.values():
        sp.set_color(frame)
        sp.set_linewidth(1.0)
    left_col = i % 2 == 0
    bottom_row = i >= 4
    if left_col:
        ax.spines['left'].set_color(dark)
        ax.set_yticks([0, 2, 4, 6, 8])
        ax.set_ylabel('RMSd', fontsize=9.5, labelpad=6)
    else:
        ax.set_yticks([])
    if bottom_row:
        ax.spines['bottom'].set_color(dark)
        ax.set_xticks([0, 10, 20, 30, 40, 50])
        ax.set_xlabel('Time (ns)', fontsize=10, labelpad=5)
    else:
        ax.set_xticks([])
    ax.tick_params(axis='y', direction='out', length=3, width=0.8, color=dark,
                   labelsize=10, pad=5)
    ax.tick_params(axis='x', direction='out', length=3, width=0.8, color=dark,
                   labelsize=10, pad=10)
    tx, ty = title_pos[i]
    fig.text(tx / W, 1 - ty / H, name, ha='center', va='center', fontsize=10)

fig.savefig('out.png', dpi=100)
